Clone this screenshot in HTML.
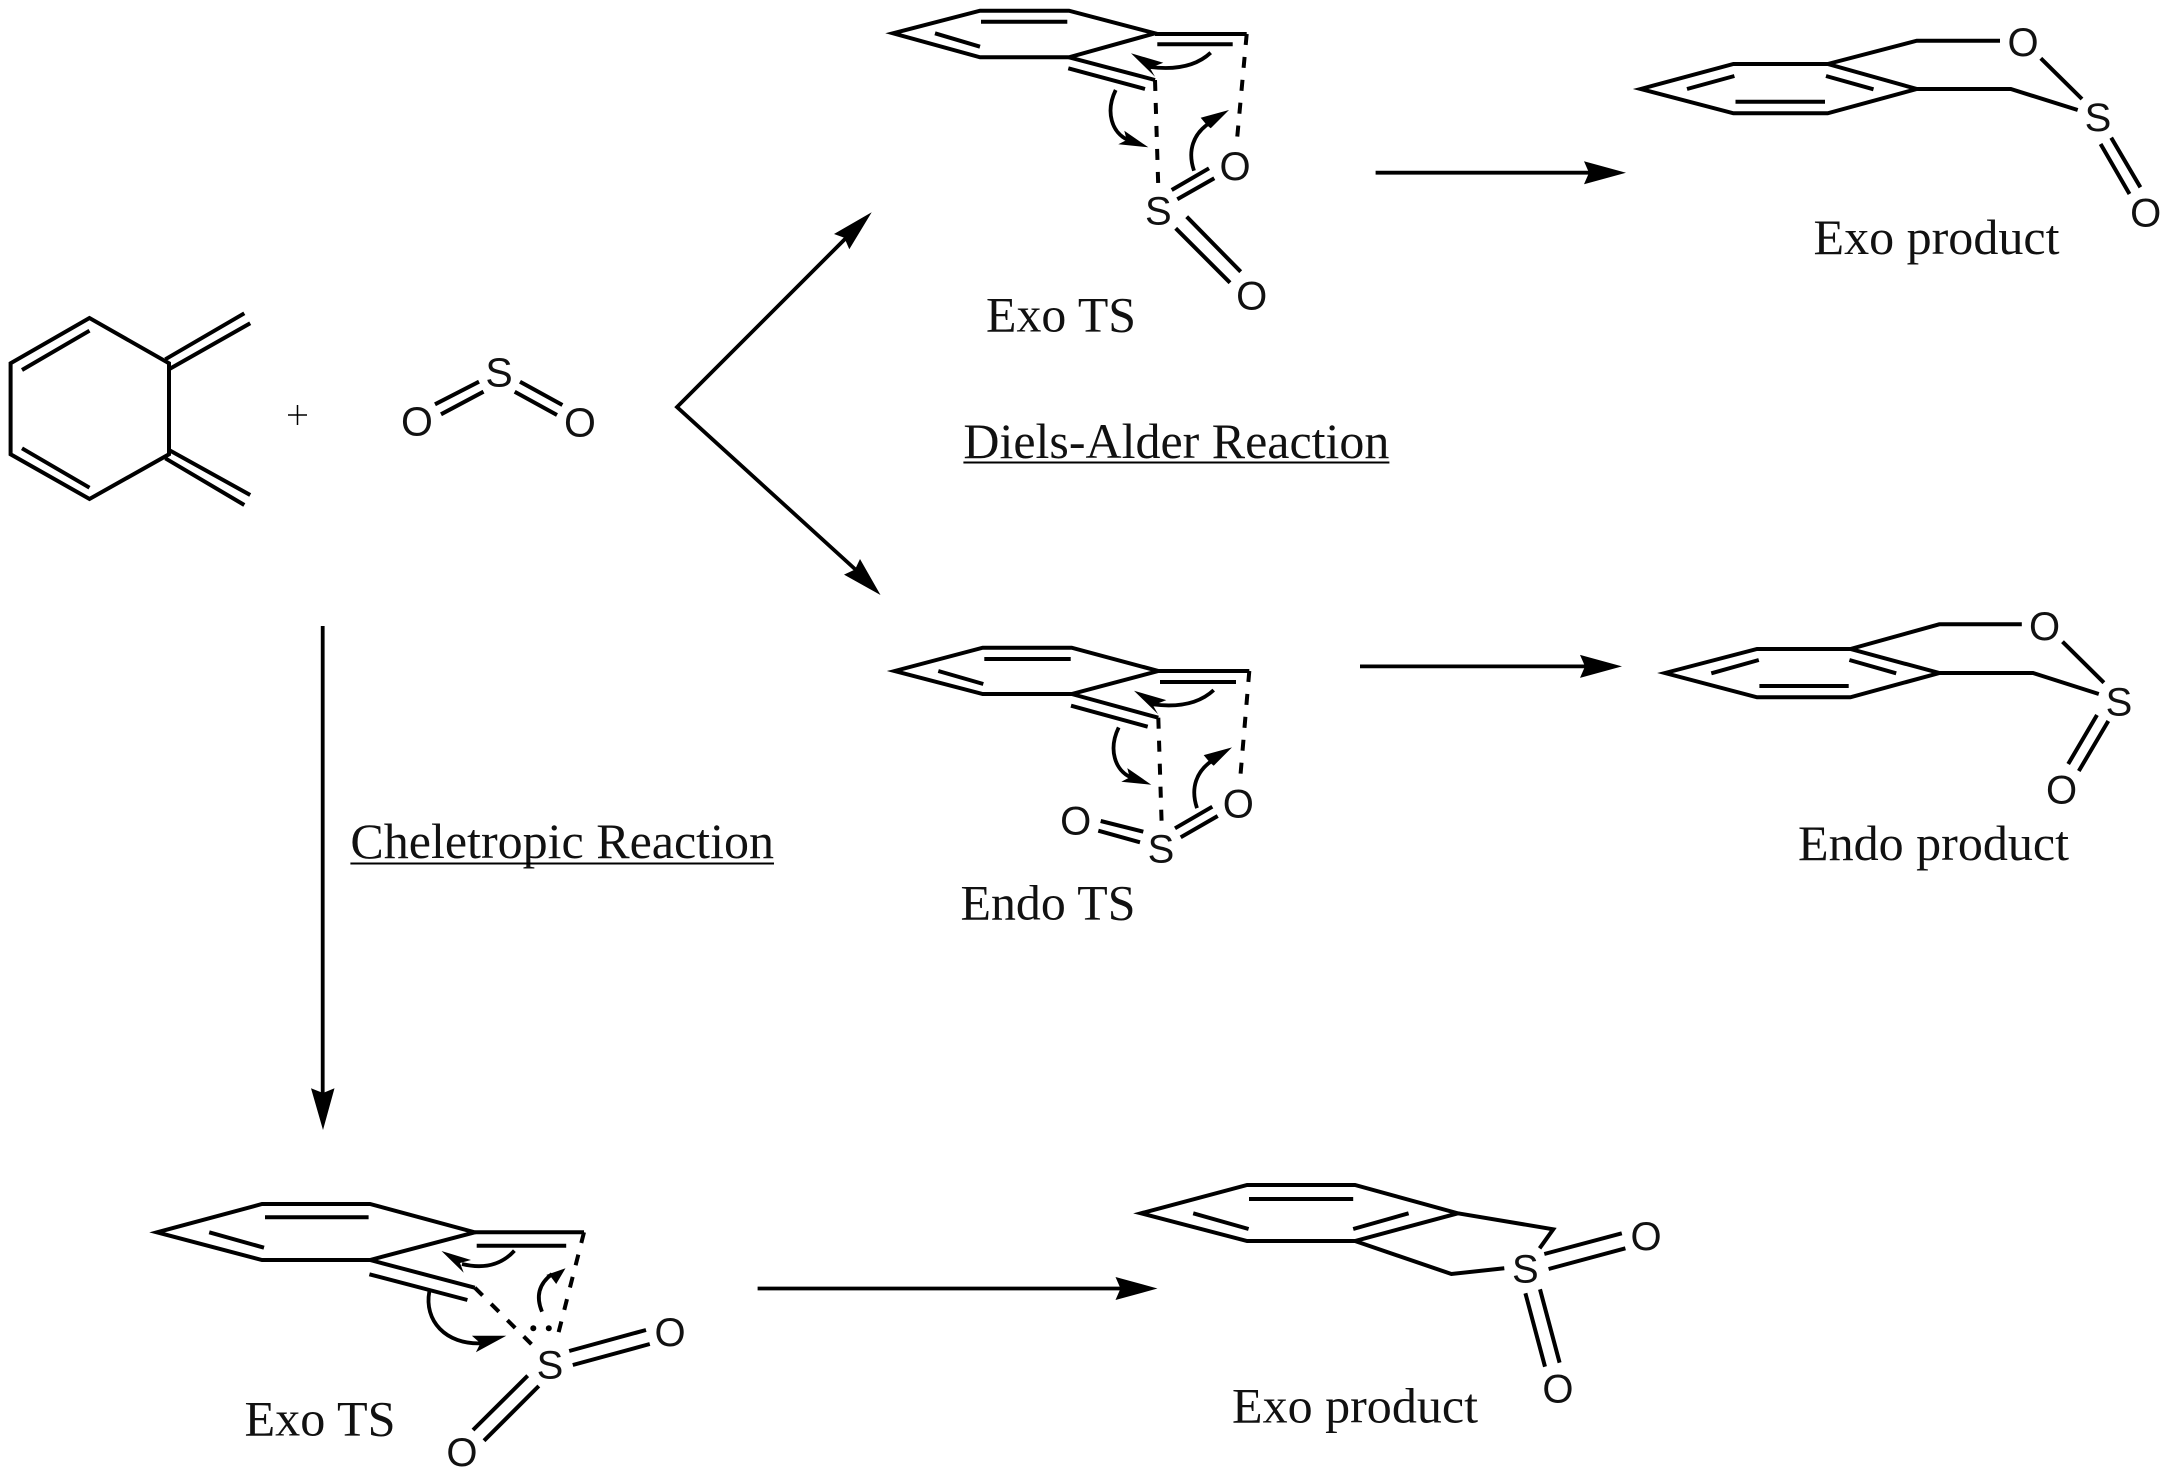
<!DOCTYPE html>
<html lang="en">
<head>
<meta charset="utf-8">
<title>Diels-Alder and Cheletropic Reactions</title>
<style>
html,body{margin:0;padding:0;background:#fff;}
svg{display:block;}
.b{stroke:#000;stroke-width:4;fill:none;stroke-linejoin:miter;stroke-linecap:butt;stroke-miterlimit:10;}
.d{stroke:#000;stroke-width:4;fill:none;stroke-dasharray:11 12;}
.c{stroke:#000;stroke-width:3.8;fill:none;}
.a{stroke:#000;stroke-width:3.8;fill:none;}
.t{font-family:"Liberation Serif",serif;font-size:50px;fill:#111;}
.l{font-family:"Liberation Sans",sans-serif;font-size:40px;fill:#111;text-anchor:middle;}
</style>
</head>
<body>
<svg width="2172" height="1477" viewBox="0 0 2172 1477" xmlns="http://www.w3.org/2000/svg">
<rect width="2172" height="1477" fill="#fff"/>

<!-- Reactant diene -->
<polygon class="b" points="89.5,318 10.6,363.3 10.6,454.3 89.5,499 169,454.3 169,363.3"/>
<path class="b" d="M22,370L89.5,330.7M22,448.3L89.5,487.7M165.3,359.3L244.3,313.3M169,369.3L250.2,323.3M165.3,458.3L244.3,505M169,450L250.2,495"/>
<path d="M288,415H307M297.5,405V425" stroke="#000" stroke-width="1.5" fill="none"/>

<!-- SO2 -->
<path class="b" d="M435,404.3L479,381.7M441,414.3L483.5,391.7M520,381.7L562.4,405M514.7,391.7L557,415"/>
<text class="l" style="font-size:41px" x="499" y="386.5">S</text>
<text class="l" style="font-size:41px" x="417" y="435.5">O</text>
<text class="l" style="font-size:41px" x="580" y="436.5">O</text>

<!-- Branch arrows -->
<path class="a" d="M846,238L677,407L856,570"/>
<polygon points="871.7,212.3 834,234 844.3,237.7 849.3,249.3" fill="#000"/>
<polygon points="880.5,595 844,574.6 855,569.5 860,559" fill="#000"/>

<!-- Straight arrows -->
<path class="a" d="M1375.6,172.7H1595"/>
<polygon points="1626,172.7 1584,161.2 1589,172.7 1584,184.2" fill="#000"/>
<path class="a" d="M1360,666.4H1590"/>
<polygon points="1622,666.4 1580,654.9 1585,666.4 1580,677.9" fill="#000"/>
<path class="a" d="M322.7,626V1100"/>
<polygon points="323,1130 311,1088.3 323,1093 334.5,1088.3" fill="#000"/>
<path class="a" d="M757.6,1288.5H1125"/>
<polygon points="1157.5,1288.5 1115.5,1277 1120.5,1288.5 1115.5,1300" fill="#000"/>

<!-- Exo TS (top) -->
<polygon class="b" points="893,33.3 980,10.7 1069,10.7 1155,33.3 1069,57.3 980,57.3"/>
<path class="b" d="M981,21.7H1067.3M935,33.3L980,46.7M1155,34H1246.7M1157.3,44.3H1232.7M1069,57.3L1155,80M1068.3,68.3L1145,89"/>
<path class="d" d="M1246.7,34L1236.7,143"/>
<path class="d" d="M1155,80L1158.3,188"/>
<path class="b" d="M1171.7,190L1209,168.3M1177.3,199.3L1214.3,178.3M1186.7,216.7L1240.7,271.7M1175.7,228.3L1230,282.7"/>
<text class="l" x="1158.3" y="224.5">S</text>
<text class="l" x="1235" y="180">O</text>
<text class="l" x="1251.7" y="309.5">O</text>
<g>
<path class="c" d="M1210.7,52.7Q1190,72 1150,67"/>
<polygon points="1131,53.3 1163.3,62.7 1150,68 1155,76.7" fill="#000"/>
<path class="c" d="M1115.7,90C1105,112 1112,133 1128,140"/>
<polygon points="1148.3,147.3 1124.3,130.7 1126.7,140 1118.3,144.3" fill="#000"/>
<path class="c" d="M1194,170.7C1187,150 1194,134 1208,124"/>
<polygon points="1229,110 1200.7,117.7 1206.7,125 1210.7,128.3" fill="#000"/>
</g>
<text class="t" x="986" y="331.7" textLength="150" lengthAdjust="spacingAndGlyphs">Exo TS</text>

<!-- Exo product (top) -->
<polygon class="b" points="1640.6,89 1733.4,64 1827.7,64 1916.8,89 1827.7,113.3 1733.4,113.3"/>
<path class="b" d="M1687,89L1734.4,76M1826,76L1873.5,89.3M1735.5,101.7H1825M1827.7,64L1916.8,40.7H2000M2040.8,58.3L2082,99M1916.8,89H2010.8L2077.7,110M2111.2,137.7L2140.4,187.3M2100.6,144L2129.5,194"/>
<text class="l" x="2023" y="56">O</text>
<text class="l" x="2098" y="131">S</text>
<text class="l" x="2145.7" y="226.5">O</text>
<text class="t" x="1813.5" y="254" textLength="246" lengthAdjust="spacingAndGlyphs">Exo product</text>

<!-- Diels-Alder label -->
<text class="t" x="963.4" y="458" textLength="426" lengthAdjust="spacingAndGlyphs">Diels-Alder Reaction</text>
<path d="M963.4,462.5H1389.4" stroke="#000" stroke-width="2" fill="none"/>

<!-- Endo TS -->
<polygon class="b" points="894.7,671 982.7,647.7 1071.7,647.7 1158.3,671 1071.7,694 982.7,694"/>
<path class="b" d="M984.3,659H1070.7M938.3,671L983.3,684M1158.3,671H1249.3M1160,682H1236M1071.7,694L1158.3,717.7M1071,705.7L1147.7,726.7"/>
<path class="d" d="M1249.3,671L1240,780.7"/>
<path class="d" d="M1158.3,717.7L1161.7,825"/>
<path class="b" d="M1175,828.3L1212.3,806.7M1180.7,837.3L1217.7,816M1100.7,821L1143.3,831.7M1098.3,830.7L1140,842.3"/>
<text class="l" x="1161" y="862.5">S</text>
<text class="l" x="1238.3" y="817.5">O</text>
<text class="l" x="1075.7" y="834.5">O</text>
<g transform="translate(3,637.4)">
<path class="c" d="M1210.7,52.7Q1190,72 1150,67"/>
<polygon points="1131,53.3 1163.3,62.7 1150,68 1155,76.7" fill="#000"/>
<path class="c" d="M1115.7,90C1105,112 1112,133 1128,140"/>
<polygon points="1148.3,147.3 1124.3,130.7 1126.7,140 1118.3,144.3" fill="#000"/>
<path class="c" d="M1194,170.7C1187,150 1194,134 1208,124"/>
<polygon points="1229,110 1200.7,117.7 1206.7,125 1210.7,128.3" fill="#000"/>
</g>
<text class="t" x="960.5" y="919.3" textLength="175" lengthAdjust="spacingAndGlyphs">Endo TS</text>

<!-- Endo product -->
<polygon class="b" points="1665,673 1757,649 1850.4,649 1939.3,673 1850.4,697.3 1757,697.3"/>
<path class="b" d="M1711.3,673.3L1758.8,660M1849.4,660L1896.2,673.3M1759.4,686H1848.7M1850.4,649L1939.3,624.3H2021.8M2062.5,641.7L2103.9,682.7M1939.3,673H2033L2098.8,694M2097,715L2068.2,764M2108.3,721L2078.8,771"/>
<text class="l" x="2044.5" y="640">O</text>
<text class="l" x="2119" y="715.5">S</text>
<text class="l" x="2061.5" y="803.5">O</text>
<text class="t" x="1798" y="860" textLength="271" lengthAdjust="spacingAndGlyphs">Endo product</text>

<!-- Cheletropic label -->
<text class="t" x="350.4" y="858" textLength="423.6" lengthAdjust="spacingAndGlyphs">Cheletropic Reaction</text>
<path d="M350.4,863.5H774" stroke="#000" stroke-width="2" fill="none"/>

<!-- Cheletropic Exo TS -->
<polygon class="b" points="157,1232.3 262,1204 370,1204 474.8,1232.3 370,1260 262,1260"/>
<path class="b" d="M265,1217.3H368.6M209.2,1232.3L264,1247.7M474.8,1232.3H584M476.7,1245.7H566.2M370,1260L474.8,1287.7M369.4,1274.3L467.4,1300"/>
<path class="d" d="M584,1232.3L556.2,1341.7"/>
<path class="d" d="M474.8,1287.7L534,1346.7"/>
<circle cx="533.3" cy="1328.3" r="3" fill="#000"/>
<circle cx="548.8" cy="1328.3" r="3" fill="#000"/>
<path class="b" d="M569.2,1351L646,1330M572.8,1365L649.8,1344M527.7,1375.7L473,1430M538.8,1386L484,1440.7"/>
<text class="l" x="550" y="1378.5">S</text>
<text class="l" x="670" y="1346">O</text>
<text class="l" x="461.9" y="1466">O</text>
<path class="c" d="M514.4,1250.7Q495,1272 462,1264"/>
<polygon points="441.5,1251 471,1260 460,1263 463.7,1272.7" fill="#000"/>
<path class="c" d="M429.3,1291.7C424,1320 445,1345 482,1343.3"/>
<polygon points="506.3,1335.7 471.9,1335.7 480.4,1343.3 475.9,1352.3" fill="#000"/>
<path class="c" d="M542,1311.7C535,1295 540,1283 552,1274"/>
<polygon points="565.5,1268.3 546.2,1275 551,1277 556.2,1284" fill="#000"/>
<text class="t" x="244.5" y="1435.7" textLength="151" lengthAdjust="spacingAndGlyphs">Exo TS</text>

<!-- Cheletropic Exo product -->
<polygon class="b" points="1141,1213.3 1247.1,1185 1355,1185 1457.9,1213.3 1355,1241 1247.1,1241"/>
<path class="b" d="M1249,1199H1353.2M1193.2,1213.3L1248.6,1229M1353.2,1229L1408.6,1213.3M1457.9,1213.3L1553.2,1229.3L1539.6,1248.3M1355,1241L1451.4,1274L1504.3,1268.3M1544.3,1254L1621.8,1233.3M1548.6,1269L1625.4,1248.3M1525.4,1293.3L1545,1366.7M1540,1289.3L1559.6,1362.7"/>
<text class="l" x="1525.4" y="1282.5">S</text>
<text class="l" x="1646" y="1250">O</text>
<text class="l" x="1557.9" y="1402.5">O</text>
<text class="t" x="1232" y="1422.7" textLength="246" lengthAdjust="spacingAndGlyphs">Exo product</text>
</svg>
</body>
</html>
